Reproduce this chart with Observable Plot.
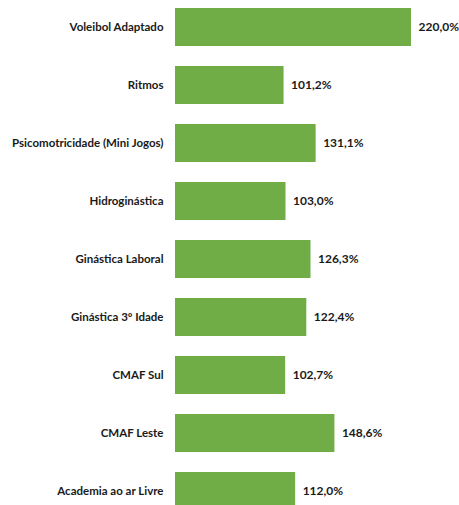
<!DOCTYPE html>
<html>
<head>
<meta charset="utf-8">
<script src="https://cdn.jsdelivr.net/npm/d3@7"></script>
<script src="https://cdn.jsdelivr.net/npm/@observablehq/plot@0.6"></script>
<style>
  html, body { margin: 0; padding: 0; background: #fff; overflow: hidden; }
</style>
</head>
<body>
<div id="chart"></div>
<script>
const categories = [
  "Voleibol Adaptado",
  "Ritmos",
  "Psicomotricidade (Mini Jogos)",
  "Hidroginástica",
  "Ginástica Laboral",
  "Ginástica 3º Idade",
  "CMAF Sul",
  "CMAF Leste",
  "Academia ao ar Livre"
];
const values = [220.0, 101.2, 131.1, 103.0, 126.3, 122.4, 102.7, 148.6, 112.0];

const data = categories.map((c, i) => ({ name: c, value: values[i] }));
const fmt = v => v.toFixed(1).replace(".", ",") + "%";

const chart = Plot.plot({
  width: 459,
  height: 518,
  marginLeft: 175,
  marginRight: 48,
  marginTop: 0,
  marginBottom: 0,
  style: { fontFamily: "Lato, sans-serif", color: "#1a1a1a", background: "#fff" },
  x: { domain: [0, 220], axis: null },
  y: { domain: categories, paddingInner: 0.35, paddingOuter: 0.12, label: null },
  marks: [
    Plot.barX(data, { x: "value", y: "name", fill: "#70AD47" }),
    Plot.axisY({ tickSize: 0, tickPadding: 12, fontWeight: "bold", fontSize: 11.5, fill: "#1a1a1a", label: null }),
    Plot.text(data, { x: "value", y: "name", text: d => fmt(d.value), dx: 7, textAnchor: "start", fontWeight: "bold", fontSize: 12, fill: "#1a1a1a" })
  ]
});
document.getElementById("chart").appendChild(chart);
</script>
</body>
</html>
